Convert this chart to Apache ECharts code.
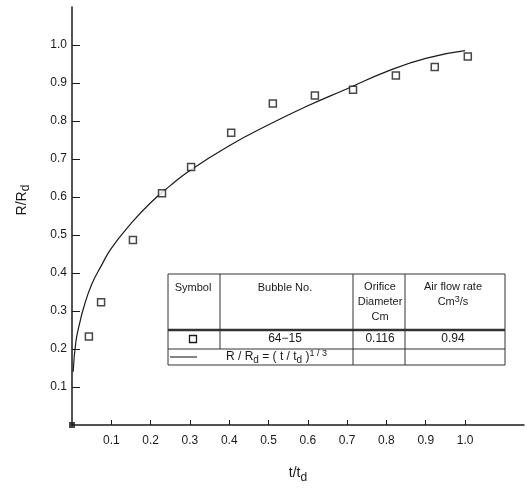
<!DOCTYPE html>
<html>
<head>
<meta charset="utf-8">
<script src="https://cdn.jsdelivr.net/npm/echarts@6/dist/echarts.min.js"></script>
<style>
	html, body { margin: 0; padding: 0; background: #fff; }
	#chart { width: 531px; height: 489px; }
</style>
</head>
<body>
<div id="chart"></div>
<script>
// measured bubble radius ratio vs time ratio (bubble 64-15)
const timeRatio = [0.043, 0.074, 0.155, 0.229, 0.303, 0.405, 0.511, 0.618, 0.715, 0.824, 0.923, 1.007];
const radiusRatio = [0.233, 0.323, 0.487, 0.61, 0.679, 0.769, 0.846, 0.867, 0.882, 0.92, 0.942, 0.97];

// curve R/Rd = (t/td)^1/3
const curveT = [0.003, 0.01, 0.02, 0.03, 0.05, 0.075, 0.1, 0.15, 0.2, 0.25, 0.3, 0.4, 0.5, 0.6, 0.7, 0.8, 0.9, 1.0];
const curveR = [0.14, 0.22, 0.27, 0.31, 0.37, 0.42, 0.465, 0.53, 0.585, 0.63, 0.67, 0.735, 0.79, 0.84, 0.885, 0.93, 0.965, 0.985];

const originPoint = [[0, 0]];

const xTicks = [0.1, 0.2, 0.3, 0.4, 0.5, 0.6, 0.7, 0.8, 0.9, 1.0];
const yTicks = [0.1, 0.2, 0.3, 0.4, 0.5, 0.6, 0.7, 0.8, 0.9, 1.0];

// table in the plot
const tableHeader = ["Symbol", "Bubble No.", ["Orifice", "Diameter", "Cm"], ["Air flow rate", "{t|Cm}{sup|3}{t|/s}"]];
const tableRow = ["", "64\u221215", "0.116", "0.94"];

const ink = "#1a1a1a";
const font = "Liberation Sans";

const chart = echarts.init(document.getElementById("chart"));

// table geometry (pixels)
const tL = 168, tR = 505, tT = 274, tB = 365;
const cols = [220, 353, 405];
const thickY = 330, rowY = 349;
const colCenters = [193, 285, 380, 453];

function hline(x1, x2, y, w) {
	return { type: "line", shape: { x1: x1, y1: y, x2: x2, y2: y }, style: { stroke: "#333", lineWidth: w || 1 }, z: 10 };
}
function vline(x, y1, y2) {
	return { type: "line", shape: { x1: x, y1: y1, x2: x, y2: y2 }, style: { stroke: "#333", lineWidth: 1 }, z: 10 };
}
function txt(text, x, y, extra) {
	return Object.assign({
		type: "text", x: x, y: y, z: 11,
		style: Object.assign({
			text: text, fill: ink, font: "11px " + font, align: "center", verticalAlign: "middle",
		}, extra || {}),
	});
}

const graphics = [
	{ type: "rect", shape: { x: tL, y: tT, width: tR - tL, height: tB - tT }, style: { fill: "#fff", stroke: "#333", lineWidth: 1 }, z: 9 },
	hline(tL, tR, thickY, 2.5),
	hline(tL, tR, rowY, 1),
	vline(cols[0], tT, rowY),
	vline(cols[1], tT, tB),
	vline(cols[2], tT, tB),
	txt(tableHeader[0], colCenters[0], 288),
	txt(tableHeader[1], colCenters[1], 288),
	txt(tableHeader[2][0], colCenters[2], 287),
	txt(tableHeader[2][1], colCenters[2], 302),
	txt(tableHeader[2][2], colCenters[2], 317),
	txt(tableHeader[3][0], colCenters[3], 287),
	{
		type: "text", x: colCenters[3], y: 302, z: 11,
		style: {
			text: tableHeader[3][1], align: "center", verticalAlign: "middle",
			rich: {
				t: { fontSize: 11, fontFamily: font, fill: ink },
				sup: { fontSize: 9, fontFamily: font, fill: ink, padding: [0, 0, 4, 0] },
			},
		},
	},
	{ type: "rect", shape: { x: colCenters[0] - 3.5, y: 339 - 3.5, width: 7, height: 7 }, style: { fill: "#fff", stroke: ink, lineWidth: 1.3 }, z: 11 },
	txt(tableRow[1], colCenters[1], 339, { font: "12px " + font }),
	txt(tableRow[2], colCenters[2], 339, { font: "12px " + font }),
	txt(tableRow[3], colCenters[3], 339, { font: "12px " + font }),
	hline(170, 197, 357, 1.2),
	{
		type: "text", x: 226, y: 357, z: 11,
		style: {
			text: "{t|R / R}{sub|d}{t| = ( t / t}{sub|d}{t| )}{sup|1 / 3}",
			align: "left", verticalAlign: "middle",
			rich: {
				t: { fontSize: 12, fontFamily: font, fill: ink },
				sub: { fontSize: 10, fontFamily: font, fill: ink, padding: [6, 0, 0, 0] },
				sup: { fontSize: 9, fontFamily: font, fill: ink, padding: [0, 0, 6, 0] },
			},
		},
	},
	// y axis title
	{
		type: "text", x: 22, y: 200, rotation: Math.PI / 2, z: 11,
		style: {
			text: "{t|R/R}{sub|d}", align: "center", verticalAlign: "middle",
			rich: {
				t: { fontSize: 14, fontFamily: font, fill: ink },
				sub: { fontSize: 12, fontFamily: font, fill: ink, padding: [7, 0, 0, 0] },
			},
		},
	},
];

chart.setOption({
	animation: false,
	backgroundColor: "#fff",
	grid: { left: 72, right: 7, top: 7, bottom: 53 },
	xAxis: {
		type: "value",
		min: 0,
		max: 1.15,
		interval: 0.1,
		name: "{t|t/t}{sub|d}",
		nameLocation: "middle",
		nameGap: 38,
		nameTextStyle: {
			rich: {
				t: { fontSize: 14, fontFamily: font, color: ink },
				sub: { fontSize: 12, fontFamily: font, color: ink, padding: [9, 0, 0, 0] },
			},
		},
		axisLine: { lineStyle: { color: ink, width: 1.5 } },
		axisTick: { inside: true, length: 5, customValues: xTicks, lineStyle: { color: ink } },
		axisLabel: {
			customValues: xTicks,
			margin: 10,
			color: ink,
			fontSize: 12,
			fontFamily: font,
			formatter: (v) => v.toFixed(1),
		},
		splitLine: { show: false },
	},
	yAxis: {
		type: "value",
		min: 0,
		max: 1.1,
		interval: 0.1,
		axisLine: { show: true, lineStyle: { color: ink, width: 1.5 } },
		axisTick: { show: true, inside: true, length: 8, customValues: yTicks, lineStyle: { color: ink } },
		axisLabel: {
			customValues: yTicks,
			margin: 5,
			color: ink,
			fontSize: 12,
			fontFamily: font,
			formatter: (v) => v.toFixed(1),
		},
		splitLine: { show: false },
	},
	series: [
		{
			type: "line",
			data: curveT.map((t, i) => [t, curveR[i]]),
			smooth: true,
			showSymbol: false,
			lineStyle: { color: ink, width: 1.2 },
			z: 2,
		},
		{
			type: "scatter",
			data: timeRatio.map((t, i) => [t, radiusRatio[i]]),
			symbol: "rect",
			symbolSize: 7,
			itemStyle: { color: "#fff", borderColor: ink, borderWidth: 1.5 },
			z: 3,
		},
		{
			type: "scatter",
			data: originPoint,
			symbol: "rect",
			symbolSize: 6,
			itemStyle: { color: ink },
			z: 4,
		},
	],
	graphic: graphics,
});
</script>
</body>
</html>
